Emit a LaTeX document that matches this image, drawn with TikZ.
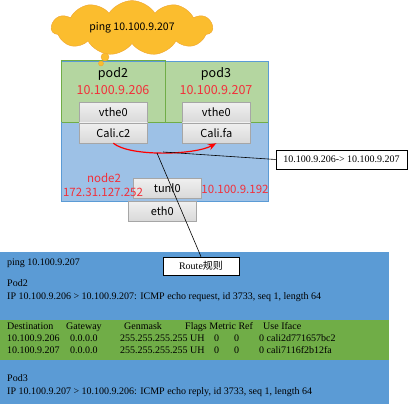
\documentclass[tikz,border=0pt]{standalone}
\usepackage{fontspec}
\setmainfont{Liberation Serif}
\newfontfamily\cjksans{Noto Sans CJK SC}
\usetikzlibrary{shapes.symbols,arrows.meta,positioning}

\definecolor{cloudfill}{HTML}{FBBD2E}
\definecolor{cloudline}{HTML}{EFA531}
\definecolor{podfill}{HTML}{B4D6A0}
\definecolor{podline}{HTML}{70AD47}
\definecolor{hostfill}{HTML}{9DC1E6}
\definecolor{hostline}{HTML}{5B9BD5}
\definecolor{bandblue}{HTML}{5B9BD5}
\definecolor{bandgreen}{HTML}{70AD47}
\definecolor{ifline}{HTML}{A6A6A6}
\definecolor{iptext}{HTML}{F2303A}

\begin{document}
\begin{tikzpicture}[
    x = 1pt, y = -1pt,
    >=Stealth,
    podbox/.style   = {draw=podline, fill=podfill, line width=0.8pt, inner sep=0pt},
    hostbox/.style  = {draw=hostline, line width=0.8pt, inner sep=0pt},
    ifbox/.style    = {draw=ifline, top color=gray!12, bottom color=gray!30, line width=0.6pt,
                       minimum width=68, minimum height=20, inner sep=0pt,
                       font=\cjksans\fontsize{11}{12}\selectfont},
    podlabel/.style = {font=\cjksans\fontsize{12.5}{14}\selectfont},
    iplabel/.style  = {text=iptext, font=\cjksans\fontsize{11.5}{13}\selectfont},
    notebox/.style  = {draw, fill=white, line width=0.6pt, inner sep=0pt,
                       font=\fontsize{10}{11}\selectfont},
    bandtext/.style = {anchor=base west, inner sep=0pt, font=\fontsize{10}{11}\selectfont}
  ]
\useasboundingbox (0,0) rectangle (409,406);
% host node2 and the two pods
\fill[hostfill] (61,61) rectangle (268,201);
\node[podbox, minimum width=104, minimum height=62, anchor=north west] (pod2) at (61,60) {};
\node[podbox, minimum width=103, minimum height=61, anchor=north west] (pod3) at (165,61) {};
\node[hostbox, minimum width=207, minimum height=140, anchor=north west] (node2) at (61,61) {};
\draw[podline, line width=0.8pt] (61,60) -- (165,60) -- (165,122);
\draw[podline, line width=0.8pt] (61,60) -- (61,122);
\node[podlabel] (pod2name) at (113,74) {pod2};
\node[iplabel, font=\cjksans\fontsize{12.5}{14}\selectfont] (pod2ip) at (113,90) {10.100.9.206};
\node[podlabel] (pod3name) at (216,74) {pod3};
\node[iplabel, font=\cjksans\fontsize{12.5}{14}\selectfont] (pod3ip) at (216,90) {10.100.9.207};
% interfaces
\node[ifbox, anchor=north west] (vethA) at (79,102) {vthe0};
\node[ifbox, below=0pt of vethA] (caliA) {Cali.c2};
\node[ifbox, anchor=north west] (vethB) at (182,102) {vthe0};
\node[ifbox, below=0pt of vethB] (caliB) {Cali.fa};
\node[ifbox, anchor=north west] (tunl) at (133,178) {tunl0};
\node[ifbox, anchor=north west] (eth) at (128,201) {eth0};
\node[iplabel] (hostname) at (104,178) {node2};
\node[iplabel] (hostip) at (103,192) {172.31.127.252};
\node[iplabel] (tunlip) at (235,189) {10.100.9.192};
% ping cloud
\node[cloud, cloud puffs=11, cloud puff arc=115, aspect=3.2, draw=cloudline, fill=cloudfill,
      minimum width=161, minimum height=51, inner sep=0pt,
      font=\cjksans\fontsize{10.5}{12}\selectfont] (ping) at (132,28) {ping 10.100.9.207};
\filldraw[draw=cloudline, fill=cloudfill] (105,57) circle (4);
\filldraw[draw=cloudline, fill=cloudfill] (101,63.5) circle (2.5);
% bands below
\fill[bandblue] (0,252) rectangle (389,320);
\fill[bandgreen] (0,320) rectangle (389,360);
\fill[bandblue] (0,360) rectangle (389,404);
% red path between the pods
\draw[->, red, line width=1.2pt] (caliA.south) .. controls (130,157) and (195,155) .. (caliB.south);
% notes
\node[notebox, minimum width=131, minimum height=19] (hop) at (341.5,159.5) {10.100.9.206-> 10.100.9.207};
\node[notebox, minimum width=76, minimum height=18] (route) at (201,266) {Route{\cjksans 规则}};
\coordinate (tapA) at (163,152);
\coordinate (tapB) at (157,153);
\draw[line width=0.6pt] (tapA) -- (hop.west);
\draw[line width=0.6pt] (tapB) -- (route.north);
% band texts
\node[bandtext] (pingcmd) at (7,265) {ping 10.100.9.207};
\node[bandtext] (pod2cap) at (7,286) {Pod2};
\node[bandtext] (pod2dump) at (7,299) {IP 10.100.9.206 > 10.100.9.207: ICMP echo request, id 3733, seq 1, length 64};
\foreach \xx/\lbl in {7/Destination, 66/Gateway, 124/Genmask, 185/Flags Metric Ref, 263/Use Iface}
  \node[bandtext] at (\xx,329) {\lbl};
\foreach \yy/\dst/\ifc in {341/10.100.9.206/cali2d771657bc2, 353/10.100.9.207/cali7116f2b12fa} {
  \node[bandtext] at (7,\yy) {\dst};
  \node[bandtext] at (70,\yy) {0.0.0.0};
  \node[bandtext] at (120,\yy) {255.255.255.255 UH};
  \node[bandtext] at (214,\yy) {0};
  \node[bandtext] at (234,\yy) {0};
  \node[bandtext] at (259,\yy) {0 \ifc};
}
\node[bandtext] (pod3cap) at (7,381) {Pod3};
\node[bandtext] (pod3dump) at (7,394) {IP 10.100.9.207 > 10.100.9.206: ICMP echo reply, id 3733, seq 1, length 64};
\end{tikzpicture}
\end{document}
